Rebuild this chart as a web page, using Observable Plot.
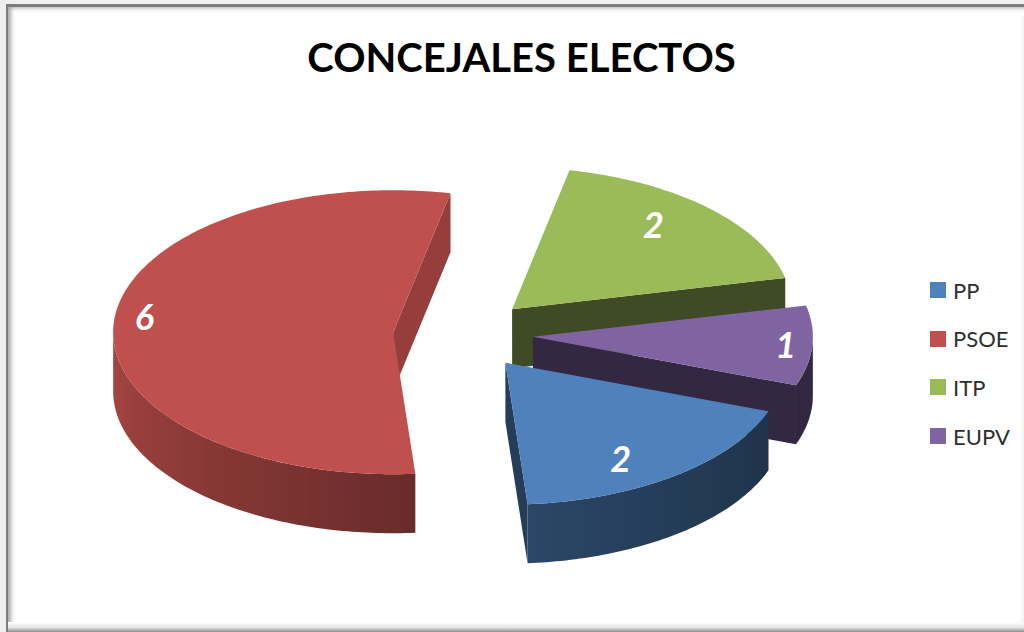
<!DOCTYPE html>
<html lang="es">
<head>
<meta charset="utf-8">
<title>Concejales electos</title>
<script src="https://cdn.jsdelivr.net/npm/d3@7"></script>
<script src="https://cdn.jsdelivr.net/npm/@observablehq/plot@0.6"></script>
<style>
  html, body { margin: 0; padding: 0; background: #efefef; }
  #page { position: relative; width: 1024px; height: 632px; overflow: hidden; }
  /* Bevelled sheet behind the chart */
  #sheet {
    position: absolute; left: 6px; top: 4px; width: 1030px; height: 640px;
    background: #fff; box-sizing: border-box;
    border-left: 2px solid #7d7d7d; border-top: 3px solid #7d7d7d;
    box-shadow: inset 5px 3px 4px -2px #a8a8a8;
  }
  #sheet-bottom {
    position: absolute; left: 8px; top: 622px; width: 1016px; height: 10px;
    background: linear-gradient(#fff, #e4e4e4 55%, #b5b5b5 80%, #8c8c8c);
  }
  #sheet-right {
    position: absolute; left: 1020px; top: 16px; width: 4px; height: 606px;
    background: linear-gradient(90deg, #fff, #f2f2f2);
  }
  #chart { position: absolute; left: 0; top: 0; }
  #chart svg { display: block; background: transparent; }
  #legend { position: absolute; left: 930px; top: 266px; }
  #legend svg { background: transparent; }
  #legend div[class$="-swatch"] { height: 48.6px; margin: 0; padding: 0; color: #2e2e2e; }
  #legend div[class$="-swatch"] svg { margin-right: 7px; }
</style>
</head>
<body>
<div id="page">
  <div id="sheet"></div>
  <div id="sheet-bottom"></div>
  <div id="sheet-right"></div>
  <div id="chart"></div>
  <div id="legend"></div>
</div>
<script>
// Council seats per party
const titleText = "CONCEJALES ELECTOS";
const parties = ["PP", "PSOE", "ITP", "EUPV"];
const seats = [2, 6, 2, 1];
const partyColors = ["#4f81bd", "#c0504d", "#9bbb59", "#8064a2"];

// Pie geometry, in pixels and degrees (clockwise from the right)
const W = 1024, H = 632;
const centerX = 462.5, centerY = 334;
const radiusX = 280, radiusY = 142;
const firstAngle = 20;
const explode = 0.25;
const depth = 59 / radiusY;

// Shading and label placement, per party
const cutFaceShade = [0.47, 0.78, 0.40, 0.40];
const labelRadius = [0.68, 0.89, 0.72, 0.905];
const labelShift = [0.15, -0.04, -0.07, 0.014];
const rimShade = d3.scaleLinear([0, 20, 85, 180], [0.40, 0.39, 0.54, 0.88]);
const paintOrder = ["PSOE", "ITP", "EUPV", "PP"];

const rad = (a) => (a * Math.PI) / 180;
const darken = (color, k) => {
  const c = d3.rgb(color);
  return d3.rgb(c.r * k, c.g * k, c.b * k).formatHex();
};

// Turn the seat counts into angular spans with their pulled-out centres
const total = d3.sum(seats);
let running = firstAngle;
const slices = parties.map((party, i) => {
  const start = running;
  const end = start + (seats[i] / total) * 360;
  running = end;
  const mid = rad((start + end) / 2);
  return {
    party, i, start, end, mid, seats: seats[i], color: partyColors[i],
    ax: explode * Math.cos(mid),
    ay: explode * Math.sin(mid)
  };
});

const onRim = (s, a) => [s.ax + Math.cos(rad(a)), s.ay + Math.sin(rad(a))];

function arcAngles(from, to) {
  const n = Math.max(2, Math.ceil(Math.abs(to - from)));
  return d3.range(n + 1).map((k) => from + ((to - from) * k) / n);
}

// Flat top of a slice
function topFace(s) {
  const pts = [[s.ax, s.ay], ...arcAngles(s.start, s.end).map((a) => onRim(s, a))];
  return pts.map(([x, y]) => ({x, y, party: s.party}));
}

// Radial cuts that look towards the viewer
function cutFaces(s) {
  const faces = [];
  const add = (angle, normal, tag) => {
    if (Math.sin(rad(normal)) <= 0) return;
    const [rx, ry] = onRim(s, angle);
    const color = darken(s.color, cutFaceShade[s.i]);
    faces.push(
      ...[[s.ax, s.ay], [rx, ry], [rx, ry + depth], [s.ax, s.ay + depth]]
        .map(([x, y]) => ({x, y, id: tag, color}))
    );
  };
  add(s.start, s.start - 90, s.party + "-start");
  add(s.end, s.end + 90, s.party + "-end");
  return faces;
}

// The part of the rim on the viewer's side, as one closed outline
function rimSpan(s) {
  for (const turn of [0, 360]) {
    const from = Math.max(s.start, turn);
    const to = Math.min(s.end, turn + 180);
    if (to > from) return {from, to, turn};
  }
  return null;
}

function rimWall(s) {
  const span = rimSpan(s);
  if (!span) return [];
  const angles = arcAngles(span.from, span.to);
  const upper = angles.map((a) => onRim(s, a));
  const lower = angles.slice().reverse().map((a) => {
    const [x, y] = onRim(s, a);
    return [x, y + depth];
  });
  return [...upper, ...lower].map(([x, y]) => ({x, y, party: s.party}));
}

// Horizontal gradients following the light around each rim
const rimGradients = (index, {x}) => {
  const defs = d3.create("svg:defs");
  for (const s of slices) {
    const span = rimSpan(s);
    if (!span) continue;
    const x0 = x(onRim(s, span.to)[0]);
    const x1 = x(onRim(s, span.from)[0]);
    const gradient = defs.append("linearGradient")
      .attr("id", `rim-${s.party}`)
      .attr("gradientUnits", "userSpaceOnUse")
      .attr("x1", x0).attr("x2", x1).attr("y1", 0).attr("y2", 0);
    for (const a of arcAngles(span.to, span.from)) {
      gradient.append("stop")
        .attr("offset", (x(onRim(s, a)[0]) - x0) / (x1 - x0))
        .attr("stop-color", darken(s.color, rimShade(a - span.turn)));
    }
  }
  return defs.node();
};

const bySlice = new Map(slices.map((s) => [s.party, s]));

const pieMarks = paintOrder.flatMap((party) => {
  const s = bySlice.get(party);
  return [
    Plot.line(cutFaces(s), {
      x: "x", y: "y", z: "id",
      fill: {value: "color", scale: null},
      stroke: "none"
    }),
    Plot.line(rimWall(s), {x: "x", y: "y", fill: `url(#rim-${s.party})`, stroke: "none"}),
    Plot.line(topFace(s), {x: "x", y: "y", z: "party", fill: "party", stroke: "none"})
  ];
});

const labelData = slices.map((s) => ({
  text: String(s.seats),
  x: s.ax + labelRadius[s.i] * Math.cos(s.mid),
  y: s.ay + labelRadius[s.i] * Math.sin(s.mid) + labelShift[s.i]
}));

const colorOptions = {domain: parties, range: partyColors};

const chart = Plot.plot({
  width: W,
  height: H,
  margin: 0,
  style: {background: "transparent", overflow: "visible"},
  x: {domain: [-centerX / radiusX, (W - centerX) / radiusX], range: [0, W], axis: null},
  y: {domain: [-centerY / radiusY, (H - centerY) / radiusY], range: [0, H], axis: null},
  color: colorOptions,
  marks: [
    rimGradients,
    ...pieMarks,
    Plot.text(labelData, {
      x: "x", y: "y", text: "text",
      fill: "white", fontSize: 36, fontWeight: 700, fontStyle: "italic",
      fontFamily: "Lato", lineAnchor: "middle"
    }),
    Plot.text([titleText], {
      frameAnchor: "top", dy: 59, lineAnchor: "middle", dx: 9,
      fontSize: 40, fontWeight: 700, fontFamily: "Lato", fill: "black"
    })
  ]
});
document.getElementById("chart").append(chart);

const legend = Plot.legend({
  color: {...colorOptions, type: "ordinal"},
  legend: "swatches",
  columns: 1,
  swatchSize: 16,
  style: {fontFamily: "Lato", fontSize: "22px"}
});
document.getElementById("legend").append(legend);
</script>
</body>
</html>
